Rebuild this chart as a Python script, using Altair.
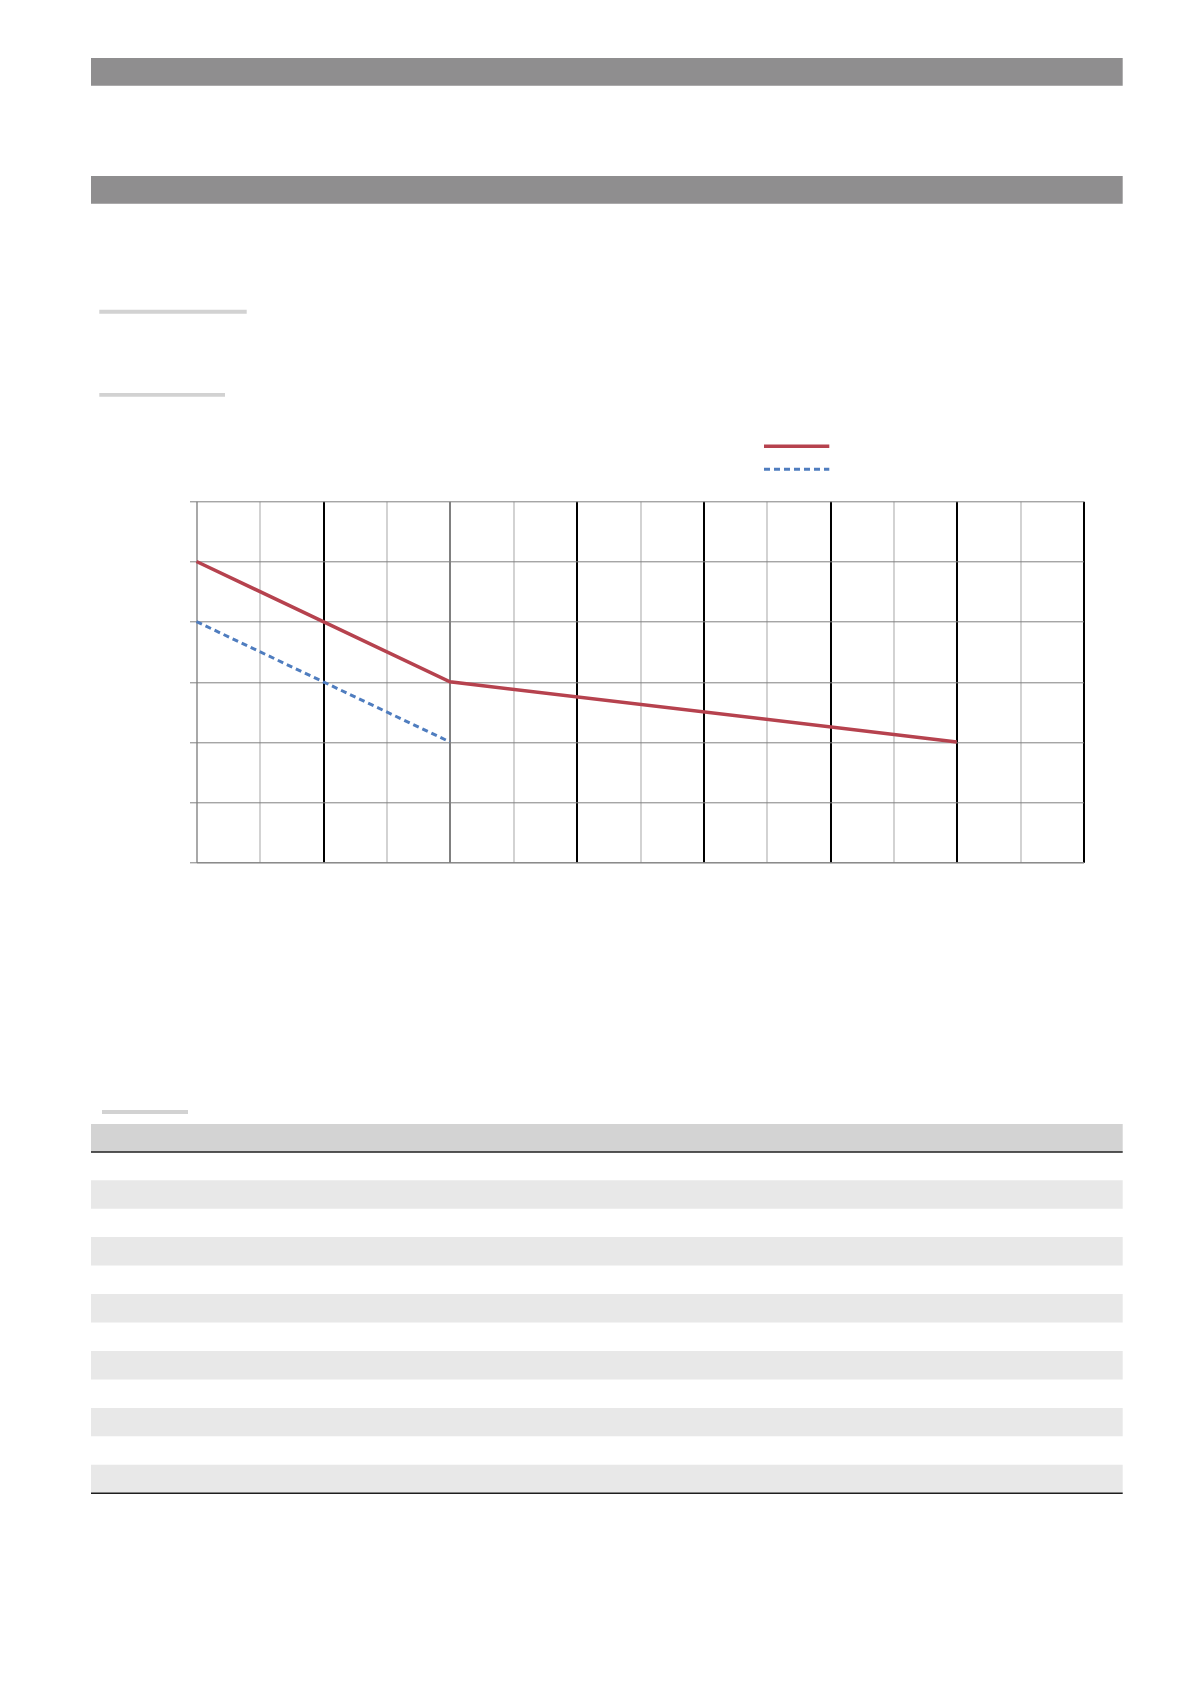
import altair as alt
import pandas as pd

# ---- chart data ----
red_x = [0, 2, 4, 12]
red_y = [5, 4, 3, 2]
blue_x = [0, 2, 4]
blue_y = [4, 3, 2]
x_ticks = list(range(0, 15))
y_ticks = list(range(0, 7))

# ---- table below the chart: 12 body rows, every second one shaded ----
table_rows = list(range(1, 13))
row_shaded = [0, 1, 0, 1, 0, 1, 0, 1, 0, 1, 0, 1]

# ---- layout (page pixels) ----
W, H = 887, 361
OX, OY = 196.5, 501.3          # plot origin on the page
PAGE_L, PAGE_R = 91.0, 1122.7  # left / right edge of page blocks

RED = "#B6424E"
BLUE = "#4F7DBF"


def rx(px):
    return px - OX


def ry(py):
    return py - OY


red_df = pd.DataFrame({"x": red_x, "y": red_y})
blue_df = pd.DataFrame({"x": blue_x, "y": blue_y})
one = pd.DataFrame({"k": [0]})
table_df = pd.DataFrame({"row": table_rows, "shaded": row_shaded})

GRID_H = "#808080"
GRID_V = "#a6a6a6"
BLACK_TEST = "datum.value > 0 && datum.value % 2 == 0"

x_axis = alt.Axis(
    values=x_ticks, labels=False, ticks=False, title=None,
    domainColor=GRID_H, domainWidth=1, grid=True,
    gridColor={"condition": {"test": BLACK_TEST, "value": "#000000"}, "value": GRID_V},
    gridWidth={"condition": {"test": BLACK_TEST + " && datum.value != 4", "value": 2}, "value": 1},
)
y_axis = alt.Axis(
    values=y_ticks, labels=False, ticks=True, tickSize=7, tickColor=GRID_H,
    title=None, domainColor=GRID_H, grid=True, gridColor=GRID_H, gridWidth=1,
)
x_scale = alt.Scale(domain=[0, 14], nice=False, zero=False)
y_scale = alt.Scale(domain=[0, 6], nice=False)

red = alt.Chart(red_df).mark_line(color=RED, strokeWidth=3.5).encode(
    x=alt.X("x:Q", scale=x_scale, axis=x_axis),
    y=alt.Y("y:Q", scale=y_scale, axis=y_axis),
)
blue = alt.Chart(blue_df).mark_line(color=BLUE, strokeWidth=3, strokeDash=[6, 4]).encode(
    x=alt.X("x:Q"),
    y=alt.Y("y:Q", scale=y_scale, axis=None),
)


def block(x1, x2, y1, y2, color):
    return alt.Chart(one).mark_rect(color=color).encode(
        x=alt.value(rx(x1)), x2=alt.value(rx(x2)),
        y=alt.value(ry(y1)), y2=alt.value(ry(y2)),
    )


def hline(x1, x2, y, color, width, dash=None):
    kw = dict(color=color, strokeWidth=width)
    if dash:
        kw["strokeDash"] = dash
    return alt.Chart(one).mark_rule(**kw).encode(
        x=alt.value(rx(x1)), x2=alt.value(rx(x2)), y=alt.value(ry(y)),
    )


bar1 = block(PAGE_L, PAGE_R, 58.0, 85.7, "#8f8e8f")
bar2 = block(PAGE_L, PAGE_R, 176.0, 203.7, "#8f8e8f")
ul1 = block(99.3, 246.7, 309.7, 313.7, "#d2d2d2")
ul2 = block(99.3, 225.0, 393.0, 396.7, "#d2d2d2")
ul3 = block(102.0, 188.0, 1110.0, 1114.0, "#d2d2d2")

leg_red = hline(764.0, 829.3, 446.3, RED, 3.5)
leg_blue = hline(764.0, 829.3, 469.3, BLUE, 3, [6, 4])

thead = block(PAGE_L, PAGE_R, 1124.0, 1151.7, "#d3d3d3")
tbody = alt.Chart(table_df).transform_filter("datum.shaded == 1").mark_rect(color="#e8e8e8").encode(
    x=alt.value(rx(PAGE_L)), x2=alt.value(rx(PAGE_R)),
    y=alt.Y("row:O", scale=alt.Scale(domain=table_rows, range=[ry(1151.7), ry(1493.3)],
                                     paddingInner=0, paddingOuter=0), axis=None),
)
tline1 = hline(PAGE_L, PAGE_R, 1151.9, "#1e1e1e", 1.5)
tline2 = hline(PAGE_L, PAGE_R, 1493.3, "#1e1e1e", 1.5)

chart = alt.layer(
    bar1, bar2, ul1, ul2, ul3, thead, tbody, tline1, tline2,
    red, blue, leg_red, leg_blue,
).resolve_scale(y="independent").properties(
    width=W, height=H,
    autosize=alt.AutoSizeParams(type="none"),
    padding={"left": OX - 8, "top": OY - 8, "right": 80, "bottom": 660},
    background="#ffffff",
).configure_view(stroke="transparent")

chart.save("out.html", embed_options={"renderer": "svg", "actions": False})
